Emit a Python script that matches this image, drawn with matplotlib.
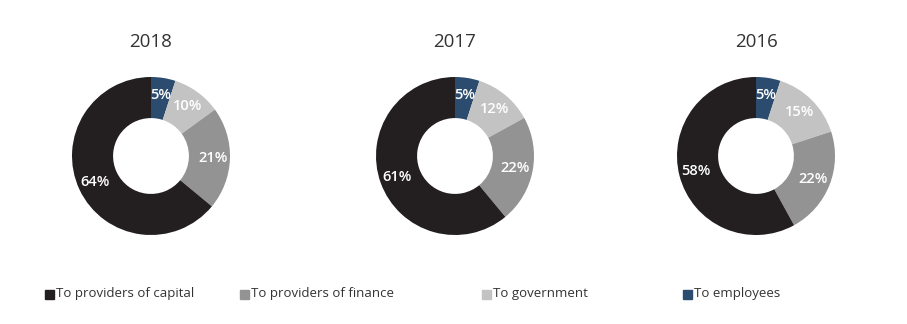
import matplotlib.pyplot as plt

plt.rcParams['font.family'] = ['Open Sans', 'DejaVu Sans']

years = ['2018', '2017', '2016']
categories = ['To employees', 'To government', 'To providers of finance', 'To providers of capital']
employees = [5, 5, 5]
government = [10, 12, 15]
finance = [21, 22, 22]
capital = [64, 61, 58]

colors = ['#2b4c6f', '#c3c3c3', '#939393', '#231f20']

W, H = 907, 324
fig = plt.figure(figsize=(W / 100, H / 100), dpi=100)

centers_x = [151, 455, 756]
cy = 156
r = 79

for i, year in enumerate(years):
    cx = centers_x[i]
    ax = fig.add_axes([(cx - r) / W, (H - cy - r) / H, 2 * r / W, 2 * r / H])
    vals = [employees[i], government[i], finance[i], capital[i]]
    wedges, texts, autotexts = ax.pie(
        vals, colors=colors, startangle=90, counterclock=False, radius=1,
        wedgeprops=dict(width=0.52, linewidth=0),
        autopct='%d%%', pctdistance=0.78,
        textprops=dict(color='white', fontsize=10.5, fontweight='semibold'))
    ax.set_xlim(-1, 1)
    ax.set_ylim(-1, 1)
    ax.set_aspect('equal')
    fig.text(cx / W, 1 - 42 / H, year, ha='center', va='center',
             fontsize=13.5, color='#333333')

# legend
leg_order = [3, 2, 1, 0]
leg_x = [50, 245, 487, 688]
for j, k in enumerate(leg_order):
    x = leg_x[j]
    fig.patches.append(plt.Rectangle(((x - 5) / W, (H - 299) / H), 9 / W, 9 / H,
                                     transform=fig.transFigure, color=colors[k]))
    fig.text((x + 6) / W, 1 - 294 / H, categories[k], ha='left', va='center',
             fontsize=9.5, color='#333333')

fig.savefig('out.png', dpi=100)
